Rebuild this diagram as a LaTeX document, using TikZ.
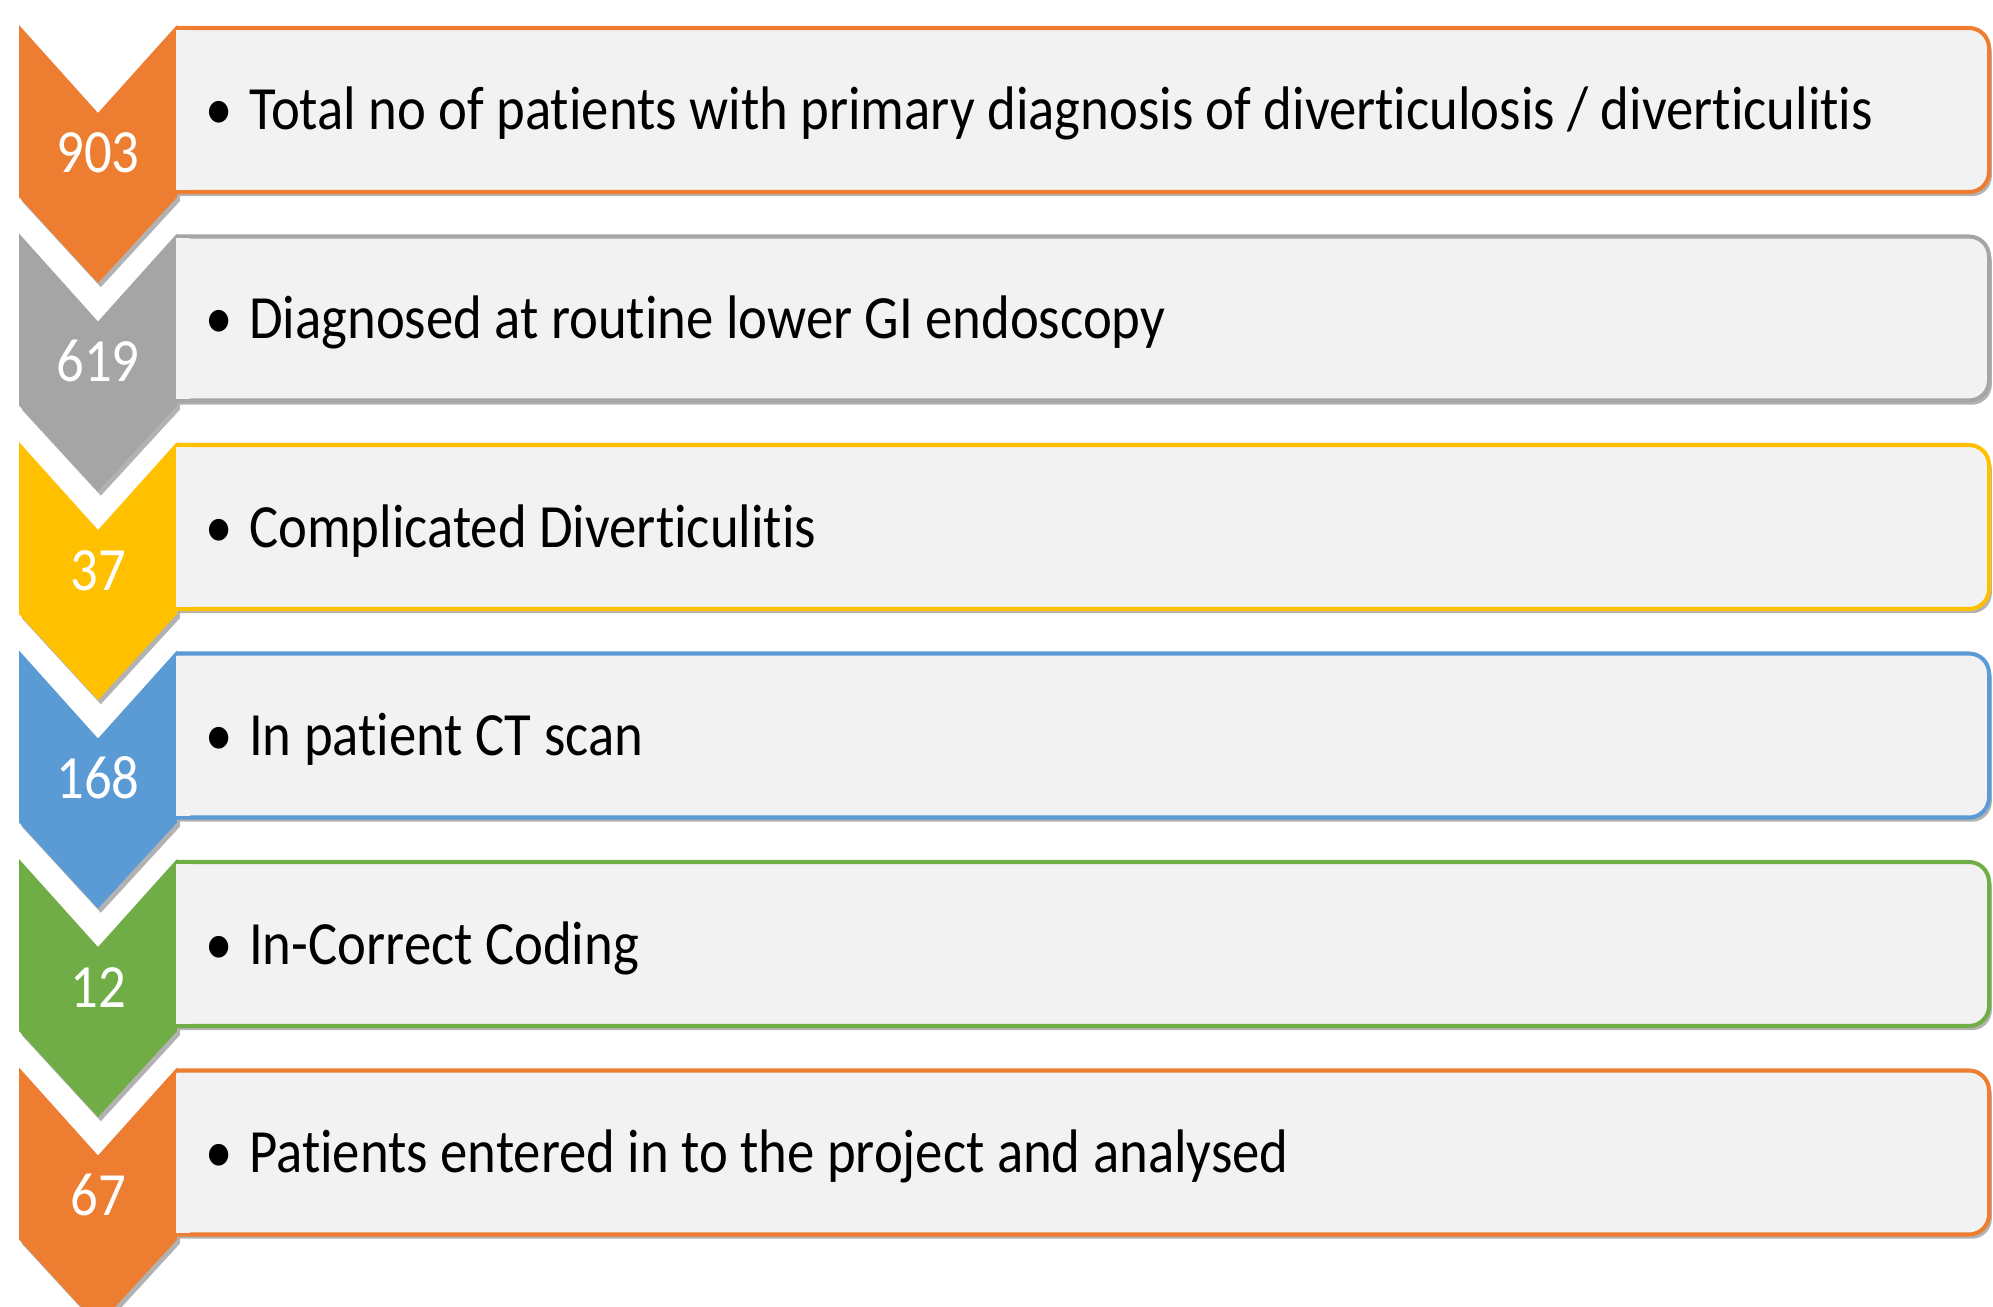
\documentclass[tikz,border=0pt]{standalone}
\usepackage{fontspec}
\setmainfont{Carlito}[FakeStretch=0.89,Ligatures={NoCommon,NoRare,NoContextual}]
\usetikzlibrary{shadows}
\definecolor{corange}{HTML}{ED7D31}
\definecolor{cgray}{HTML}{A5A5A5}
\definecolor{cyellow}{HTML}{FFC000}
\definecolor{cblue}{HTML}{5B9BD5}
\definecolor{cgreen}{HTML}{70AD47}
\definecolor{boxfill}{HTML}{F2F2F2}
\tikzset{
  shad/.style={drop shadow={shadow xshift=1.6pt, shadow yshift=-2.4pt, opacity=0.3, fill=black}},
  boxshape/.style={fill=boxfill, line width=2.3pt, shad},
  chevshape/.style={shad},
  numtxt/.style={text=white, inner sep=0pt, anchor=base, font=\fontsize{35}{42}\selectfont},
  itemtxt/.style={text=black, inner sep=0pt, anchor=base west, font=\fontsize{35}{42}\selectfont},
}
\newcommand{\flowbox}[3]{%
  \pgfmathsetmacro{\dy}{208.5*#1}
  \path[boxshape, draw=#2] (177,28+\dy) -- (1969,28+\dy) arc[start angle=-90,end angle=0,radius=20]
     -- (1989,172+\dy) arc[start angle=0,end angle=90,radius=20] -- (177,192+\dy);
  \fill[boxfill] (176,30+\dy) rectangle (190,190+\dy);
  \node[itemtxt] (t#1) at (205,130+\dy) {•\hspace{0.27em}#3};
}
\newcommand{\flowchev}[3]{%
  \pgfmathsetmacro{\dy}{208.5*#1}
  \fill[chevshape, #2] (19,25+\dy) -- (98,113+\dy) -- (177,25+\dy) -- (177,197+\dy)
     -- (98,283+\dy) -- (19,197+\dy) -- cycle;
  \node[numtxt] (n#1) at (98,173+\dy) {#3};
}
\begin{document}
\begin{tikzpicture}[x=0.02cm,y=-0.02cm]
\useasboundingbox (0,0) rectangle (1993,1307);
\clip (0,0) rectangle (1993,1307);
\flowchev{0}{corange}{903}
\flowchev{1}{cgray}{619}
\flowchev{2}{cyellow}{37}
\flowchev{3}{cblue}{168}
\flowchev{4}{cgreen}{12}
\flowchev{5}{corange}{67}
\flowbox{0}{corange}{Total no of patients with primary diagnosis of diverticulosis / diverticulitis}
\flowbox{1}{cgray}{Diagnosed at routine lower GI endoscopy}
\flowbox{2}{cyellow}{Complicated Diverticulitis}
\flowbox{3}{cblue}{In patient CT scan}
\flowbox{4}{cgreen}{In-Correct Coding}
\flowbox{5}{corange}{Patients entered in to the project and analysed}
\end{tikzpicture}
\end{document}
